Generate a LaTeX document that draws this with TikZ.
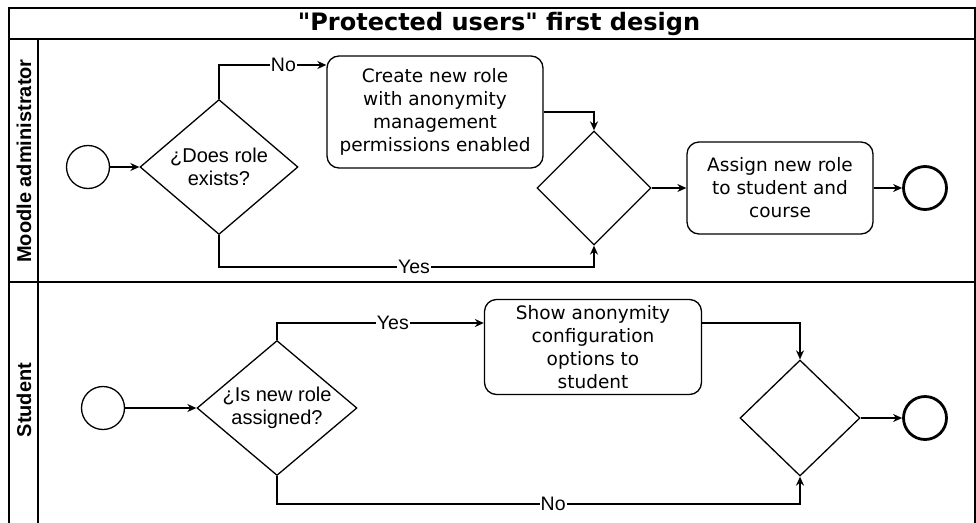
\documentclass[tikz,border=0pt]{standalone}
\usepackage{fontspec}
\setmainfont{DejaVu Sans}
\newfontfamily\arialf{Liberation Sans}
\newfontfamily\titlef[Ligatures=TeXOff]{DejaVu Sans}
\usetikzlibrary{shapes.geometric,arrows.meta}
\begin{document}
\begin{tikzpicture}[x=1pt,y=-1pt,
  line width=1.3pt,
  arr/.style={-{Stealth[length=9pt,width=8pt]}},
  task/.style={draw, rounded corners=12pt, align=center, inner sep=0pt,
    font=\fontsize{18.5}{23}\selectfont},
  gate/.style={draw, diamond, aspect=1.17, inner sep=0pt, align=center,
    font=\arialf\fontsize{20}{22.5}\selectfont},
  startev/.style={draw, circle, minimum size=43pt, inner sep=0pt},
  endev/.style={draw, circle, minimum size=43pt, inner sep=0pt, line width=2.8pt},
  lbl/.style={fill=white, inner sep=1pt, font=\arialf\fontsize{19.5}{19.5}\selectfont},
  lanelbl/.style={rotate=90, font=\arialf\bfseries\fontsize{20}{20}\selectfont}
]
\clip (0,0) rectangle (976,522);
% pool frame
\draw (9,8) rectangle (975,540);
\draw (9,39) -- (975,39);
\draw (38,39) -- (38,540);
\draw (9,282) -- (975,282);
\node[font=\titlef\bfseries\fontsize{24}{24}\selectfont] (title) at (499,24) {"Protected users" first design};
\node[lanelbl] (lane1) at (24,161) {Moodle administrator};
\node[lanelbl] (lane2) at (24,400) {Student};

% lane 1
\node[startev] (s1) at (88,167) {};
\node[gate, minimum width=158pt, minimum height=135pt] (d1) at (219,167) {¿Does role\\exists?};
\node[task, minimum width=216pt, minimum height=112pt] (t1) at (435,112) {Create new role\\with anonymity\\management\\permissions enabled};
\node[gate, minimum width=114pt, minimum height=114pt] (d2) at (594,188) {};
\node[task, minimum width=186pt, minimum height=92pt] (t2) at (780,188) {Assign new role\\to student and\\course};
\node[endev] (e1) at (925,188) {};

\draw[arr] (s1) -- (d1);
\draw[arr] (d1.north) |- node[lbl, pos=0.8] {No} (t1.west |- 0,65);
\draw[arr] (t1.east) -| (d2.north);
\draw[arr] (d1.south) -- (d1.south |- 0,267) -| node[lbl, pos=0.26] {Yes} (d2.south);
\draw[arr] (d2) -- (t2);
\draw[arr] (t2) -- (e1);

% lane 2
\node[startev] (s2) at (103,408) {};
\node[gate, minimum width=160pt, minimum height=135pt] (d3) at (277,408) {¿Is new role\\assigned?};
\node[task, minimum width=217pt, minimum height=95pt] (t3) at (593,347) {Show anonymity\\configuration\\options to\\student};
\node[gate, minimum width=120pt, minimum height=116pt] (d4) at (800,418) {};
\node[endev] (e2) at (925,418) {};

\draw[arr] (s2) -- (d3);
\draw[arr] (d3.north) |- node[lbl, pos=0.78] {Yes} (t3.west |- 0,323);
\draw[arr] (t3.east |- 0,323) -| (d4.north);
\draw[arr] (d3.south) -- (d3.south |- 0,504) -| node[lbl, pos=0.264] {No} (d4.south);
\draw[arr] (d4) -- (e2);
\end{tikzpicture}
\end{document}
